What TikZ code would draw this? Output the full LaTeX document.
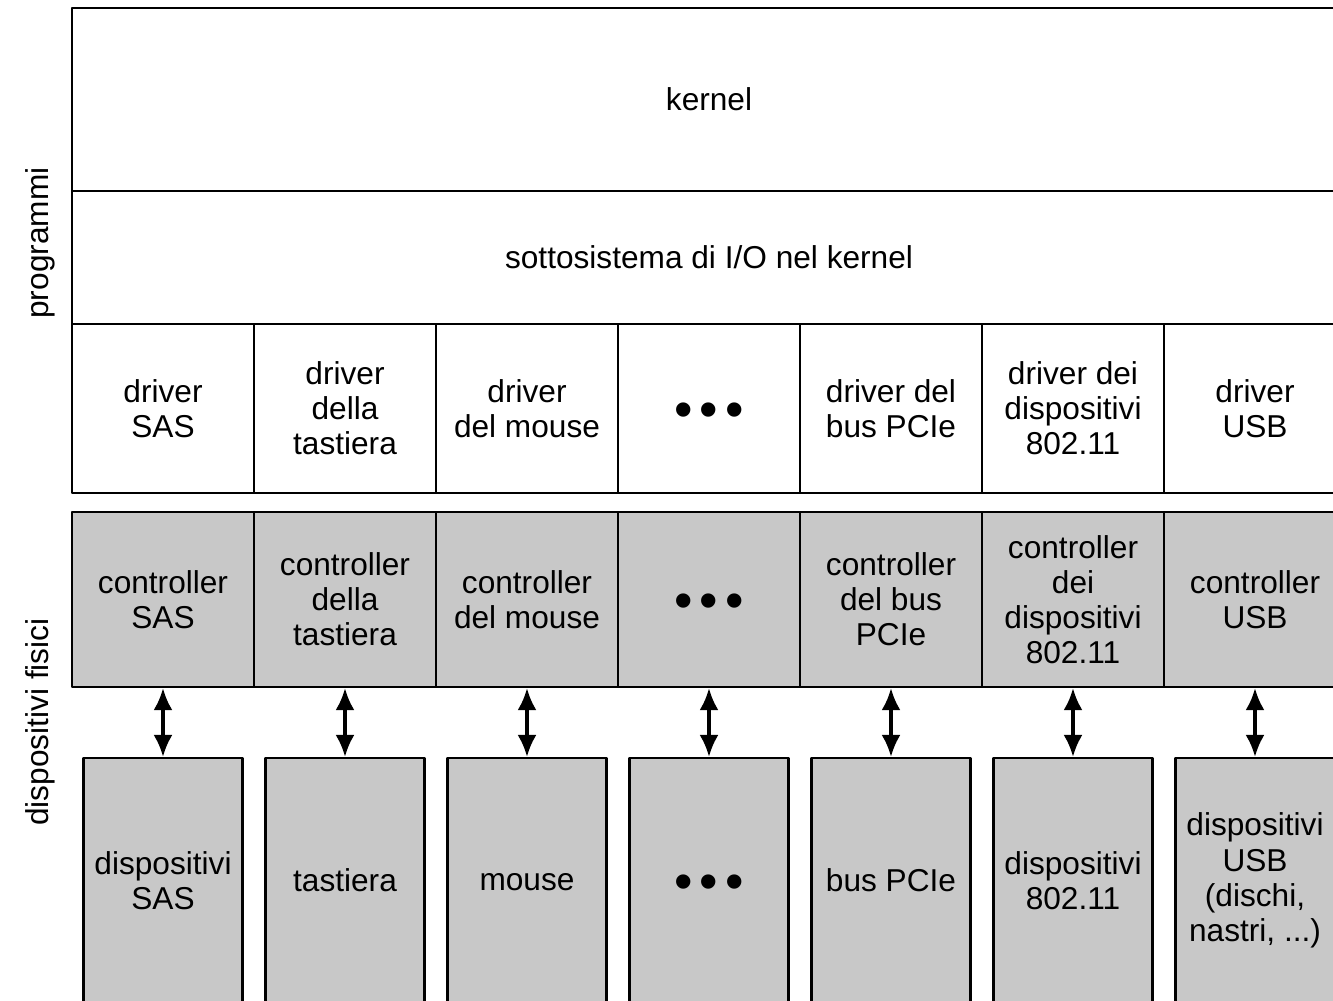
\documentclass[tikz,border=0pt]{standalone}
\usepackage{fontspec}
\setmainfont{Liberation Sans}
\usetikzlibrary{arrows.meta}
\definecolor{grigio}{RGB}{200,200,200}
\newcommand\puntini{\raisebox{-1.8pt}[\height][0pt]{\fontsize{15}{15}\selectfont •\hspace{2pt}•\hspace{2pt}•}}
\begin{document}
\begin{tikzpicture}[x=0.1mm,y=-0.1mm,line join=round,font=\fontsize{9}{10}\selectfont]
	\tikzset{
		cella/.style={draw,line width=0.6pt,inner sep=0pt,align=center,minimum width=18.2mm},
		driv/.style={cella,minimum height=16.9mm},
		ctrl/.style={cella,fill=grigio,minimum height=17.5mm},
		disp/.style={cella,fill=grigio,minimum width=15.9mm,minimum height=24.5mm},
		freccia/.style={line width=1pt,{Latex[length=2.2mm,width=1.9mm]}-{Latex[length=2.2mm,width=1.9mm]}}
	}
	\useasboundingbox (0,0) rectangle (1333,1000);
	\clip (0,0) rectangle (1333,1000);
	\node[cella,minimum width=127.4mm,minimum height=18.3mm] (kernel) at (709,99.5) {kernel};
	\node[cella,minimum width=127.4mm,minimum height=13.3mm] (sottosistema) at (709,257.5) {sottosistema di I/O nel kernel};
	\foreach \i/\drv/\ctl/\dsp in {
			1/{driver\\SAS}/{controller\\SAS}/{dispositivi\\SAS},
			2/{driver\\della\\tastiera}/{controller\\della\\tastiera}/{tastiera},
			3/{driver\\del mouse}/{controller\\del mouse}/{mouse\vphantom{t}},
			4/{\puntini}/{\puntini}/{\puntini},
			5/{driver del\\bus PCIe}/{controller\\del bus\\PCIe}/{bus PCIe},
			6/{driver dei\\dispositivi\\802.11}/{controller\\dei\\dispositivi\\802.11}/{dispositivi\\802.11},
			7/{driver\\USB}/{controller\\USB}/{dispositivi\\USB\\(dischi,\\nastri, ...)}}{
		\node[driv] (d\i) at ({163+182*(\i-1)},408.5) {\drv};
		\node[ctrl] (c\i) at ({163+182*(\i-1)},599.5) {\ctl};
		\node[disp] (p\i) at ({163+182*(\i-1)},880.5) {\dsp};
		\draw[freccia] (c\i.south) -- (p\i.north);
	}
	\node[rotate=90] (programmi) at (40,243) {programmi};
	\node[rotate=90] (fisici) at (40,722) {dispositivi fisici};
\end{tikzpicture}
\end{document}
